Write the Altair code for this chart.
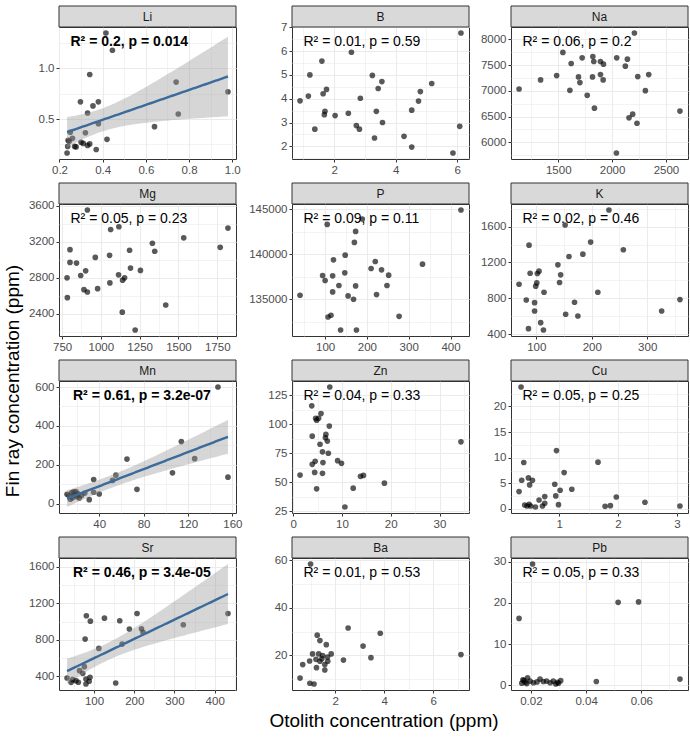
import altair as alt
import numpy as np
import pandas as pd

FONT = "Liberation Sans"

# ---------------- values (x = otolith, y = fin ray) ----------------
li_oto = [0.415, 0.445, 0.34, 0.74, 0.98, 0.297, 0.38, 0.355, 0.33, 0.75, 0.38, 0.64, 0.25, 0.32,
          0.42, 0.26, 0.24, 0.30, 0.31, 0.34, 0.33, 0.277, 0.238, 0.27, 0.37, 0.235, 0.245]
li_fin = [1.35, 1.18, 0.94, 0.865, 0.77, 0.67, 0.67, 0.63, 0.56, 0.55, 0.455, 0.425, 0.37, 0.365,
          0.30, 0.31, 0.29, 0.27, 0.26, 0.255, 0.24, 0.225, 0.23, 0.23, 0.20, 0.165, 0.28]

b_oto = [6.12, 2.56, 1.60, 1.21, 3.24, 3.55, 5.17, 1.75, 3.43, 1.64, 4.80, 1.16, 2.85, 0.89, 4.74,
         1.70, 3.37, 4.52, 1.68, 2.46, 2.03, 3.57, 2.72, 6.08, 1.37, 2.82, 4.27, 3.31, 4.52, 5.86]
b_fin = [6.76, 5.95, 5.58, 5.00, 4.98, 4.72, 4.64, 4.39, 4.43, 4.21, 4.30, 4.11, 4.02, 3.91, 3.90,
         3.47, 3.47, 3.52, 3.33, 3.39, 3.29, 3.00, 2.87, 2.84, 2.72, 2.72, 2.42, 2.35, 1.97, 1.72]

na_oto = [2207, 1543, 1722, 1821, 1830, 1892, 1920, 2043, 2142, 2123, 1620, 1485, 1336, 1688, 1701,
          1818, 1892, 1917, 2238, 2340, 1136, 1608, 1769, 2309, 1836, 2191, 2157, 2231, 2630, 2040]
na_fin = [8124, 7746, 7642, 7668, 7570, 7570, 7518, 7642, 7616, 7479, 7531, 7296, 7212, 7270, 7160,
          7270, 7316, 7212, 7277, 7316, 7036, 7010, 6912, 7003, 6664, 6547, 6476, 6371, 6606, 5792]

mg_oto = [913, 1116, 1063, 1819, 1534, 1769, 1332, 1347, 801, 1185, 964, 1056, 801, 843, 1191,
          1255, 902, 870, 1114, 1153, 1140, 782, 1058, 979, 891, 913, 784, 1418, 1138, 1221]
mg_fin = [3551, 3365, 3335, 3350, 3242, 3137, 3182, 3093, 3111, 3104, 3025, 3048, 2969, 2962, 2906,
          2880, 2876, 2824, 2831, 2798, 2772, 2798, 2742, 2678, 2667, 2641, 2578, 2496, 2417, 2219]

p_oto = [425, 189, 105, 173, 170, 148, 120, 220, 333, 210, 235, 147, 94, 118, 252,
         100, 133, 173, 248, 118, 40, 155, 223, 168, 114, 107, 277, 137, 175]
p_fin = [144926, 143922, 143327, 142546, 141320, 139907, 139387, 139201, 138903, 138420, 138271,
         137937, 137640, 137602, 137677, 137082, 136524, 136487, 136524, 135818, 135446, 135372,
         135520, 135000, 133216, 133030, 133104, 131580, 131580]

k_oto = [231, 152, 198, 87, 257, 184, 159, 139, 105, 89, 102, 144, 142, 101, 69,
         99, 114, 211, 82, 97, 169, 359, 97, 153, 326, 175, 108, 86, 113]
k_fin = [1787, 1619, 1428, 1394, 1342, 1293, 1267, 1174, 1103, 1080, 1077, 1062, 976, 972, 957,
         935, 867, 867, 781, 751, 755, 785, 658, 621, 658, 602, 527, 460, 445]

mn_oto = [147, 114, 65, 126, 106, 156, 55, 52, 35, 74, 40, 35, 31, 27,
          11, 13, 15, 16, 18, 19, 20, 21, 22, 14, 17, 24]
mn_fin = [600, 319, 229, 231, 158, 136, 146, 119, 124, 73, 49, 58, 20, 54,
          48, 40, 55, 30, 45, 62, 35, 50, 28, 22, 60, 42]

zn_oto = [7.5, 3.8, 5.7, 4.6, 5.2, 4.8, 7.4, 3.9, 6.7, 6.6, 7.0, 34.4, 5.5, 6.0, 7.2,
          9.1, 4.5, 9.9, 6.1, 3.9, 4.4, 6.0, 1.4, 13.8, 14.4, 18.7, 4.8, 12.3, 10.6]
zn_fin = [132.3, 116.0, 109.3, 105.2, 105.2, 103.5, 98.5, 89.8, 91.3, 88.4, 85.5, 84.9, 82.8, 76.2,
          75.0, 68.6, 68.0, 66.3, 66.9, 65.4, 58.4, 57.6, 56.1, 55.0, 55.8, 49.1, 44.2, 44.8, 28.5]

cu_oto = [0.354, 0.955, 0.40, 1.66, 1.085, 0.479, 0.365, 0.547, 0.50, 0.926, 1.017, 1.215, 0.32,
          0.943, 0.756, 1.97, 0.66, 0.756, 2.456, 0.989, 0.416, 0.49, 0.456, 0.518, 0.598, 0.717,
          1.78, 1.87, 3.05]
cu_fin = [23.8, 11.4, 9.07, 9.14, 7.1, 6.07, 5.6, 5.6, 4.7, 4.83, 3.66, 3.85, 3.39, 2.55, 2.42,
          2.35, 1.76, 1.11, 1.31, 0.85, 0.78, 0.91, 0.59, 0.59, 0.39, 0.59, 0.52, 0.65, 0.59]

sr_oto = [433, 322, 207, 81, 126, 91, 164, 188, 218, 222, 78, 170, 112, 76, 64, 72,
          33, 47, 55, 61, 80, 90, 88, 154, 43, 80]
sr_fin = [1089, 965, 1089, 1064, 1038, 1005, 1009, 918, 921, 881, 808, 753, 706, 505, 461, 432,
          381, 363, 352, 334, 370, 388, 345, 326, 333, 315]

ba_oto = [1.00, 2.53, 3.84, 1.27, 1.38, 1.64, 3.14, 1.08, 1.33, 1.84, 1.49, 3.46, 1.69, 7.13,
          0.96, 1.22, 1.38, 1.70, 2.34, 1.46, 1.24, 1.58, 1.58, 0.68, 0.57, 0.97, 1.14]
ba_fin = [58.5, 31.5, 29.3, 28.5, 26.2, 24.5, 23.9, 20.6, 20.6, 20.6, 19.9, 19.0, 19.3, 20.3,
          17.6, 18.3, 17.5, 17.5, 18.0, 18.5, 14.8, 13.8, 16.1, 16.1, 10.4, 8.2, 7.9]

pb_oto = [0.0206, 0.0157, 0.0516, 0.0590, 0.0740, 0.0437, 0.0188, 0.0171, 0.0233, 0.0257,
          0.0281, 0.0308, 0.0179, 0.0197, 0.0209, 0.0300, 0.0296, 0.0167, 0.0222, 0.0245,
          0.0175, 0.0185, 0.0270, 0.0290]
pb_fin = [29.4, 16.2, 20.1, 20.2, 1.5, 0.9, 1.8, 1.3, 1.5, 1.0, 1.0, 1.1, 0.7, 1.0, 0.6, 0.5,
          0.7, 0.5, 0.8, 0.9, 1.2, 0.4, 0.6, 0.3]

elements = ["Li", "B", "Na", "Mg", "P", "K", "Mn", "Zn", "Cu", "Sr", "Ba", "Pb"]
oto = [li_oto, b_oto, na_oto, mg_oto, p_oto, k_oto, mn_oto, zn_oto, cu_oto, sr_oto, ba_oto, pb_oto]
fin = [li_fin, b_fin, na_fin, mg_fin, p_fin, k_fin, mn_fin, zn_fin, cu_fin, sr_fin, ba_fin, pb_fin]
stats = ["R² = 0.2, p = 0.014", "R² = 0.01, p = 0.59", "R² = 0.06, p = 0.2",
         "R² = 0.05, p = 0.23", "R² = 0.09, p = 0.11", "R² = 0.02, p = 0.46",
         "R² = 0.61, p = 3.2e-07", "R² = 0.04, p = 0.33", "R² = 0.05, p = 0.25",
         "R² = 0.46, p = 3.4e-05", "R² = 0.01, p = 0.53", "R² = 0.05, p = 0.33"]
significant = ["Li", "Mn", "Sr"]
x_breaks = [[0.2, 0.4, 0.6, 0.8, 1.0], [2, 4, 6], [1500, 2000, 2500], [750, 1000, 1250, 1500, 1750],
            [100, 200, 300, 400], [100, 200, 300], [40, 80, 120, 160], [0, 10, 20, 30], [1, 2, 3],
            [100, 200, 300, 400], [2, 4, 6], [0.02, 0.04, 0.06]]
y_breaks = [[0.5, 1.0], [2, 3, 4, 5, 6, 7], [6000, 6500, 7000, 7500, 8000], [2400, 2800, 3200, 3600],
            [135000, 140000, 145000], [400, 800, 1200, 1600], [0, 200, 400, 600],
            [25, 50, 75, 100, 125], [0, 5, 10, 15, 20, 25], [400, 800, 1200, 1600], [20, 40, 60],
            [0, 10, 20, 30]]
x_formats = [".1f", "d", "d", "d", "d", "d", "d", "d", "d", "d", "d", ".2f"]
y_formats = [".1f", "d", "d", "d", "d", "d", "d", "d", "d", "d", "d", "d"]
x_title = "Otolith concentration (ppm)"
y_title = "Fin ray concentration (ppm)"

# ---------------- layout / style ----------------
W, H, STRIP = 177, 132, 21
COL_GAPS = [56, 42]
ROW_GAP = 45
INK = "#333333"
GRID = "#EBEBEB"


def t975(df):
    return 1.96 + 2.4 / df


def fit_band(x, y):
    x = np.asarray(x, float)
    y = np.asarray(y, float)
    n = len(x)
    slope, icpt = np.polyfit(x, y, 1)
    xg = np.linspace(x.min(), x.max(), 80)
    yh = icpt + slope * xg
    res = y - (icpt + slope * x)
    s = np.sqrt((res ** 2).sum() / (n - 2))
    se = s * np.sqrt(1 / n + (xg - x.mean()) ** 2 / ((x - x.mean()) ** 2).sum())
    t = t975(n - 2)
    return pd.DataFrame({"x": xg, "fit": yh, "lo": yh - t * se, "hi": yh + t * se})


def minor_breaks(b, lo, hi):
    step = b[1] - b[0]
    cand = [b[0] - step / 2] + [(p + q) / 2 for p, q in zip(b[:-1], b[1:])] + [b[-1] + step / 2]
    return [c for c in cand if lo <= c <= hi]


def major_axis(orient, vals, fmt):
    return alt.Axis(orient=orient, values=vals, format=fmt, grid=True, gridColor=GRID,
                    gridWidth=1.1, domain=False, ticks=True, tickColor=INK, tickSize=3,
                    tickWidth=1, labelColor="#4D4D4D", labelFontSize=11.5, labelPadding=2,
                    labelFont=FONT, labelOverlap=False, labelFlush=False, title=None)


def minor_axis(orient, vals):
    return alt.Axis(orient=orient, values=vals, labels=False, ticks=False, domain=False,
                    grid=True, gridColor=GRID, gridWidth=0.6, title=None)


def panel(i):
    name = elements[i]
    xs, ys = oto[i], fin[i]
    df = pd.DataFrame({"x": xs, "y": ys})
    sig = name in significant
    xlo, xhi = min(xs), max(xs)
    ylo, yhi = min(ys), max(ys)
    band = None
    if sig:
        band = fit_band(xs, ys)
        ylo = min(ylo, band["lo"].min())
        yhi = max(yhi, band["hi"].max())
    dx = 0.05 * (xhi - xlo)
    dy = 0.05 * (yhi - ylo)
    xdom = [xlo - dx, xhi + dx]
    ydom = [ylo - dy, yhi + dy]
    xsc = alt.Scale(domain=xdom, nice=False, zero=False)
    ysc = alt.Scale(domain=ydom, nice=False, zero=False)

    layers = []
    layers.append(alt.Chart(df).mark_point(opacity=0).encode(
        x=alt.X("x:Q", scale=xsc, axis=minor_axis("bottom", minor_breaks(x_breaks[i], *xdom))),
        y=alt.Y("y:Q", scale=ysc, axis=minor_axis("left", minor_breaks(y_breaks[i], *ydom)))))
    layers.append(alt.Chart(df).mark_circle(size=32, color="black", opacity=0.65).encode(
        x=alt.X("x:Q", scale=xsc, axis=major_axis("bottom", x_breaks[i], x_formats[i])),
        y=alt.Y("y:Q", scale=ysc, axis=major_axis("left", y_breaks[i], y_formats[i]))))
    if sig:
        layers.append(alt.Chart(band).mark_area(color="#999999", opacity=0.4).encode(
            x=alt.X("x:Q", scale=xsc, axis=None),
            y=alt.Y("lo:Q", scale=ysc, axis=None), y2="hi:Q"))
        layers.append(alt.Chart(band).mark_line(color="#3A6B9A", strokeWidth=2.4).encode(
            x=alt.X("x:Q", scale=xsc, axis=None),
            y=alt.Y("fit:Q", scale=ysc, axis=None)))
    one = pd.DataFrame({"t": [name], "s": [stats[i]]})
    layers.append(alt.Chart(one).mark_rect(fill="#D9D9D9", stroke=INK, strokeWidth=1).encode(
        x=alt.value(0), x2=alt.value(W), y=alt.value(-STRIP), y2=alt.value(0)))
    layers.append(alt.Chart(one).mark_text(fontSize=12, color="#1A1A1A", font=FONT,
                                           baseline="middle").encode(
        x=alt.value(W / 2), y=alt.value(-STRIP / 2), text="t:N"))
    layers.append(alt.Chart(one).mark_text(fontSize=14, color="black", font=FONT, align="left",
                                           baseline="middle",
                                           fontWeight="bold" if sig else "normal").encode(
        x=alt.value(14 if name in ("Mn", "Sr") else 11.5), y=alt.value(15), text="s:N"))
    if name == "Li":
        # top-left anchor of the whole figure
        layers.append(alt.Chart(one).mark_rect(fill="white", strokeWidth=0).encode(
            x=alt.value(-58), x2=alt.value(-40), y=alt.value(-26), y2=alt.value(-22)))
    if name == "Sr":
        tt = pd.DataFrame({"xt": [x_title], "yt": [y_title]})
        layers.append(alt.Chart(tt).mark_text(fontSize=19, color="black", font=FONT, angle=270,
                                              baseline="middle").encode(
            x=alt.value(-46), y=alt.value(-177), text="yt:N"))
        layers.append(alt.Chart(tt).mark_text(fontSize=19, color="black", font=FONT,
                                              baseline="middle").encode(
            x=alt.value(325), y=alt.value(163), text="xt:N"))
    return alt.layer(*layers).resolve_axis(x="independent", y="independent").properties(
        width=W, height=H)


def spacer(w):
    return alt.Chart(pd.DataFrame({"v": [0]})).mark_point(opacity=0).encode(
        x=alt.value(0), y=alt.value(0)).properties(
        width=w, height=H, view=alt.ViewBackground(stroke="transparent"))


cells = []
for r in range(4):
    for c in range(3):
        cells.append(panel(3 * r + c))
        if c < 2:
            cells.append(spacer(COL_GAPS[c]))

chart = alt.concat(*cells, columns=5, spacing={"row": ROW_GAP, "column": 0},
                   bounds="flush", align="each").properties(
    padding=0, background="white").configure(font=FONT).configure_view(
    stroke=INK, strokeWidth=1)

chart.save("out.html", embed_options={"renderer": "svg", "actions": False})
